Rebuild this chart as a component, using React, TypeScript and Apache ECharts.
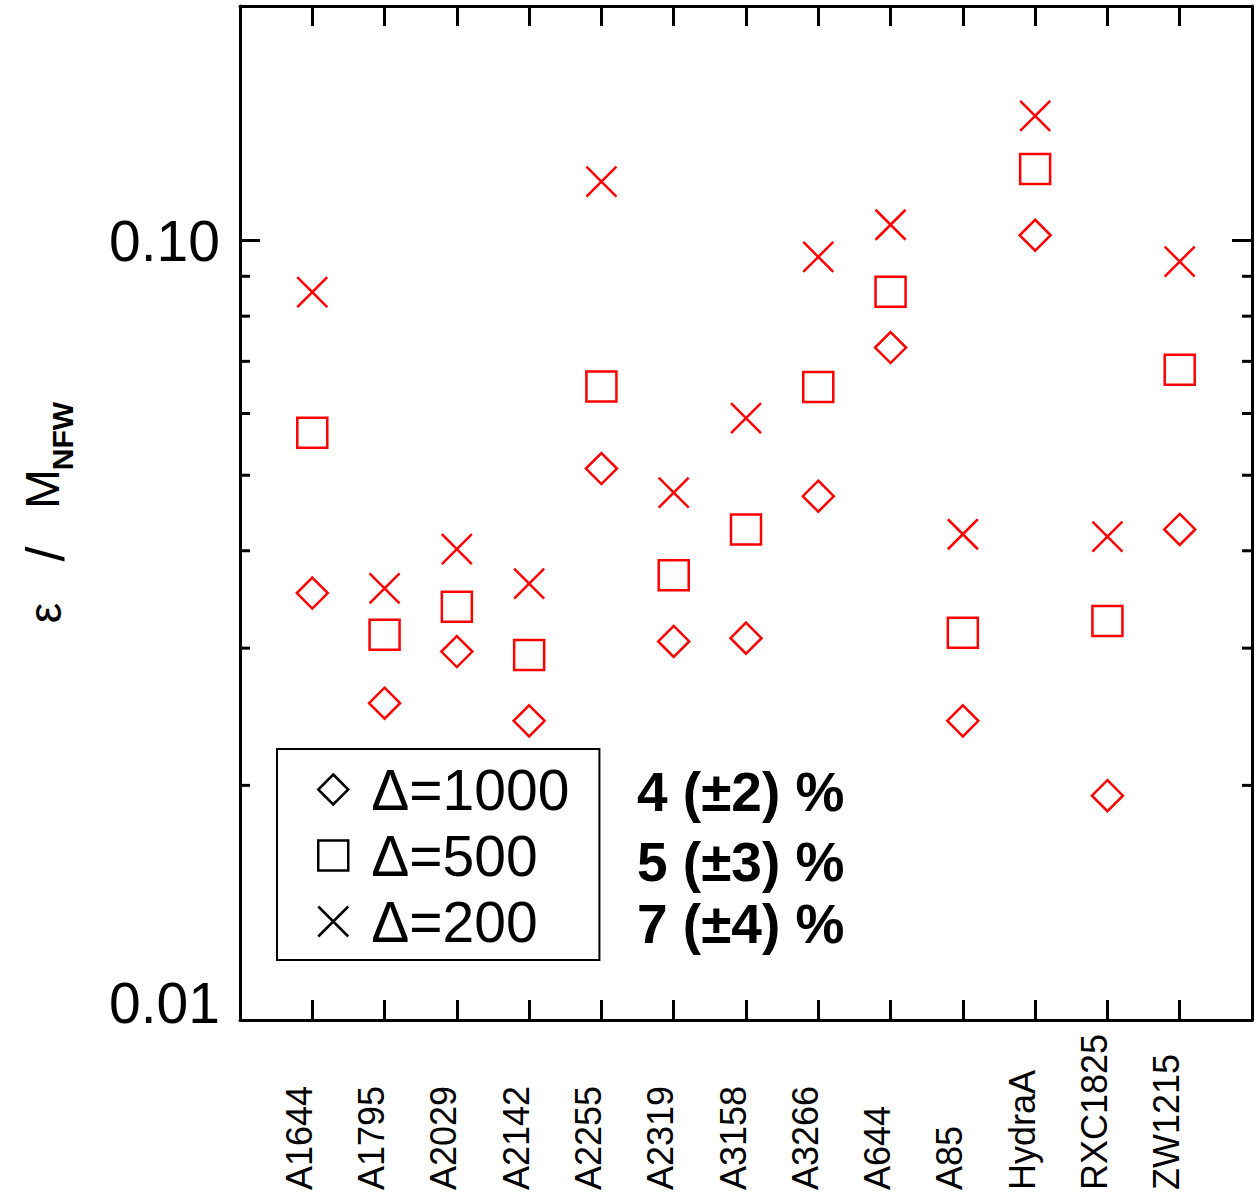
import { useEffect, useRef } from "react";
import * as echarts from "echarts";

// Galaxy clusters along the x axis
const clusters = [
  "A1644", "A1795", "A2029", "A2142", "A2255", "A2319", "A3158",
  "A3266", "A644", "A85", "HydraA", "RXC1825", "ZW1215",
];

// Fractional mass error at three overdensities
const delta1000 = [0.0353, 0.0255, 0.0297, 0.0242, 0.051, 0.0306, 0.0309, 0.047, 0.0729, 0.0242, 0.1016, 0.0194, 0.0426];
const delta500 = [0.0567, 0.0312, 0.0339, 0.0294, 0.065, 0.0372, 0.0426, 0.0649, 0.086, 0.0314, 0.1236, 0.0325, 0.0683];
const delta200 = [0.0859, 0.0358, 0.0402, 0.0363, 0.119, 0.0475, 0.0592, 0.0953, 0.1048, 0.042, 0.1446, 0.0417, 0.094];

const seriesNames = ["Δ=1000", "Δ=500", "Δ=200"];
const summaryTexts = ["4 (±2) %", "5 (±3) %", "7 (±4) %"];

// y range and the in-between decade ticks
const yMin = 0.01;
const yMax = 0.2;
const yMinorTicks = [0.02, 0.03, 0.04, 0.05, 0.06, 0.07, 0.08, 0.09];
const xMin = 0;
const xMax = clusters.length + 1;

const FONT = "'Liberation Sans', Arial, Helvetica, sans-serif";
const RED = "#ff0000";
const CROSS = "path://M0,0L10,10M10,0L0,10";
const symbols = ["diamond", "rect", CROSS];
const symbolSizes = [31, 30, 30];

export default function App() {
  const ref = useRef<HTMLDivElement>(null);

  useEffect(() => {
    if (!ref.current) return;
    const chart = echarts.init(ref.current, undefined, { renderer: "svg" });

    const lineStyle = { color: "#000", width: 3 };
    const hiddenAxisBits = { splitLine: { show: false }, minorTick: { show: false } };

    const valueLists = [delta1000, delta500, delta200];

    const scatterSeries = valueLists.map((vals, k) => ({
      name: seriesNames[k],
      type: "scatter",
      xAxisIndex: 0,
      yAxisIndex: 0,
      silent: true,
      symbol: symbols[k],
      symbolSize: symbolSizes[k],
      data: vals.map((v, i) => [i + 1, v]),
      itemStyle: { color: "rgba(0,0,0,0)", borderColor: RED, borderWidth: 2.5, opacity: 1 },
      z: 4,
    }));

    const option: any = {
      animation: false,
      backgroundColor: "#fff",
      grid: { left: 240, top: 6, right: 8, bottom: 181 },
      xAxis: [
        {
          type: "value",
          position: "bottom",
          min: xMin,
          max: xMax,
          interval: 1,
          axisLine: { show: true, onZero: false, lineStyle },
          axisTick: { show: true, inside: true, length: 20, lineStyle },
          axisLabel: {
            show: true,
            rotate: 90,
            align: "left",
            verticalAlign: "bottom",
            lineHeight: 26,
            margin: 170,
            fontSize: 36,
            fontFamily: FONT,
            color: "#000",
            formatter: (v: number) => clusters[Math.round(v) - 1] ?? "",
          },
          ...hiddenAxisBits,
        },
        {
          type: "value",
          position: "top",
          min: xMin,
          max: xMax,
          interval: 1,
          axisLine: { show: true, onZero: false, lineStyle },
          axisTick: { show: true, inside: true, length: 20, lineStyle },
          axisLabel: { show: false },
          ...hiddenAxisBits,
        },
      ],
      yAxis: [
        {
          type: "log",
          logBase: 10,
          min: yMin,
          max: yMax,
          position: "left",
          axisLine: { show: true, onZero: false, lineStyle },
          axisTick: { show: true, inside: true, length: 20, lineStyle },
          axisLabel: {
            show: true,
            margin: 20,
            fontSize: 57,
            fontFamily: FONT,
            color: "#000",
            showMaxLabel: false,
            formatter: (v: number) =>
              v < 0.015 ? "{lo|" + v.toFixed(2) + "}\n{pad| }" : v.toFixed(2),
            rich: {
              lo: { fontSize: 57, fontFamily: FONT, color: "#000" },
              pad: { fontSize: 10, lineHeight: 34 },
            },
          },
          ...hiddenAxisBits,
        },
        {
          type: "log",
          logBase: 10,
          min: yMin,
          max: yMax,
          position: "right",
          axisLine: { show: true, onZero: false, lineStyle },
          axisTick: { show: true, inside: true, length: 20, lineStyle },
          axisLabel: { show: false },
          ...hiddenAxisBits,
        },
      ],
      legend: {
        show: true,
        orient: "vertical",
        left: 277,
        top: 749,
        selectedMode: false,
        data: seriesNames.map((n, k) => ({ name: n, icon: symbols[k] })),
        itemWidth: 30,
        itemHeight: 30,
        itemGap: 9,
        padding: [12, 30, 10, 40],
        borderColor: "#000",
        borderWidth: 2,
        borderRadius: 0,
        itemStyle: { color: "rgba(0,0,0,0)", borderColor: "#000", borderWidth: 2.5, opacity: 1 },
        textStyle: { fontSize: 57, fontFamily: FONT, color: "#000", padding: [0, 0, 0, 18] },
      },
      series: [
        ...scatterSeries,
        {
          // short ticks at 2..9 of each decade, on both sides of the frame
          type: "custom",
          xAxisIndex: 0,
          yAxisIndex: 0,
          silent: true,
          clip: false,
          z: 5,
          data: yMinorTicks.map((v) => [xMin, v]),
          renderItem: (_params: any, api: any) => {
            const v = api.value(1);
            const l = api.coord([xMin, v]);
            const r = api.coord([xMax, v]);
            const st = { stroke: "#000", lineWidth: 3 };
            return {
              type: "group",
              children: [
                { type: "line", shape: { x1: l[0], y1: l[1], x2: l[0] + 10, y2: l[1] }, style: st },
                { type: "line", shape: { x1: r[0] - 10, y1: r[1], x2: r[0], y2: r[1] }, style: st },
              ],
            };
          },
        },
      ],
      graphic: [
        // y-axis title: ε / M_NFW, reading bottom to top
        {
          type: "text", x: 45, y: 613, rotation: Math.PI / 2,
          style: { text: "ε", fontSize: 46, fontFamily: FONT, fill: "#000", align: "center", verticalAlign: "middle" },
        },
        {
          type: "text", x: 45, y: 554, rotation: Math.PI / 2,
          style: { text: "/", fontSize: 54, fontFamily: FONT, fill: "#000", align: "center", verticalAlign: "middle" },
        },
        {
          type: "text", x: 42, y: 489, rotation: Math.PI / 2,
          style: { text: "M", fontSize: 48, fontFamily: FONT, fill: "#000", align: "center", verticalAlign: "middle" },
        },
        {
          type: "text", x: 62, y: 436, rotation: Math.PI / 2,
          style: { text: "NFW", fontSize: 30, fontWeight: "bold", fontFamily: FONT, fill: "#000", align: "center", verticalAlign: "middle" },
        },
        ...summaryTexts.map((t, k) => ({
          type: "text",
          x: 637,
          y: [792, 862, 924][k],
          style: { text: t, fontSize: 55, fontWeight: "bold", fontFamily: FONT, fill: "#000", align: "left", verticalAlign: "middle" },
        })),
      ],
    };

    chart.setOption(option);
    return () => chart.dispose();
  }, []);

  return (
    <div
      ref={ref}
      style={{ position: "absolute", left: 0, top: 0, width: 1260, height: 1201 }}
    />
  );
}
